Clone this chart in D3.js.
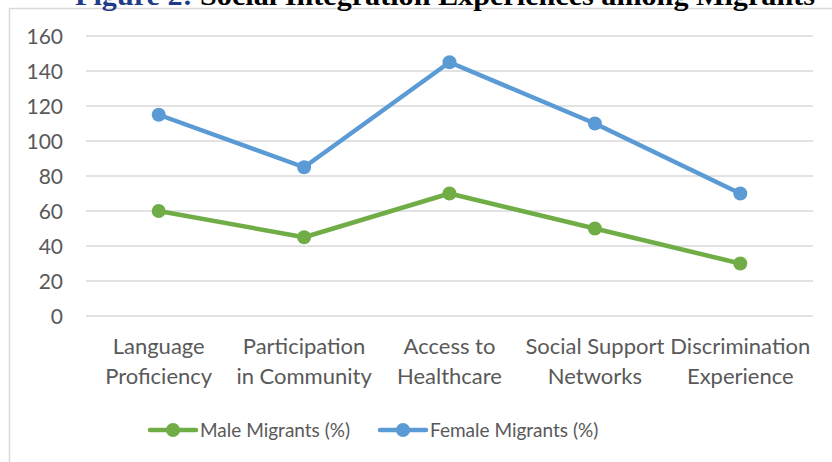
<!DOCTYPE html>
<html>
<head>
<meta charset="utf-8">
<script src="https://cdn.jsdelivr.net/npm/d3@7"></script>
<style>
  body { margin: 0; background: #fff; }
  text { font-family: Lato, "Open Sans", sans-serif; }
</style>
</head>
<body>
<script>
// Social integration experiences among migrants - line chart

const categories = [
    ["Language", "Proficiency"],
    ["Participation", "in Community"],
    ["Access to", "Healthcare"],
    ["Social Support", "Networks"],
    ["Discrimination", "Experience"]
];
const maleValues = [60, 45, 70, 50, 30];
const femaleValues = [115, 85, 145, 110, 70];
const yTicks = [0, 20, 40, 60, 80, 100, 120, 140, 160];
const seriesNames = ["Male Migrants (%)", "Female Migrants (%)"];

const width = 832;
const height = 462;

const svg = d3.select("body")
    .append("svg")
    .attr("width", width)
    .attr("height", height);

// chart frame (runs off the right and bottom)
svg.append("rect")
    .attr("x", 9.5)
    .attr("y", 8.5)
    .attr("width", 840)
    .attr("height", 470)
    .attr("fill", "#fff")
    .attr("stroke", "#d9d9d9")
    .attr("stroke-width", 1.5);

// clipped title at the very top
const title = svg.append("text")
    .attr("x", 75)
    .attr("y", 5)
    .attr("textLength", 740)
    .attr("lengthAdjust", "spacingAndGlyphs")
    .style("font-family", "'Liberation Serif', serif")
    .style("font-weight", "bold")
    .style("font-size", "27px");
title.append("tspan").attr("fill", "#1f3c88").text("Figure 2: ");
title.append("tspan").attr("fill", "#000").text("Social Integration Experiences among Migrants");

// scales
const xScale = d3.scaleBand()
    .domain(d3.range(categories.length))
    .range([86, 813]);

const yScale = d3.scaleLinear()
    .domain([0, 160])
    .range([316, 36]);

// gridlines
svg.append("g")
    .selectAll("line")
    .data(yTicks)
    .join("line")
    .attr("x1", 86)
    .attr("x2", 813)
    .attr("y1", d => yScale(d))
    .attr("y2", d => yScale(d))
    .attr("stroke", "#d9d9d9")
    .attr("stroke-width", 1.3);

// y axis labels
svg.append("g")
    .selectAll("text")
    .data(yTicks)
    .join("text")
    .attr("x", 63)
    .attr("y", d => yScale(d))
    .attr("dy", "0.36em")
    .attr("text-anchor", "end")
    .attr("fill", "#595959")
    .style("font-size", "21px")
    .text(d => d);

// x axis labels
const xLabels = svg.append("g")
    .selectAll("text")
    .data(categories)
    .join("text")
    .attr("text-anchor", "middle")
    .attr("fill", "#595959")
    .style("font-size", "22px");

xLabels.selectAll("tspan")
    .data((d, i) => d.map(s => ({s, i})))
    .join("tspan")
    .attr("x", d => xScale(d.i) + xScale.bandwidth() / 2)
    .attr("y", (d, j) => 354 + j * 30)
    .text(d => d.s);

// lines
const line = d3.line()
    .x((d, i) => xScale(i) + xScale.bandwidth() / 2)
    .y(d => yScale(d));

const series = [
    {name: seriesNames[0], values: maleValues, color: "#70ad47"},
    {name: seriesNames[1], values: femaleValues, color: "#5b9bd5"}
];

series.forEach(s => {
    svg.append("path")
        .datum(s.values)
        .attr("fill", "none")
        .attr("stroke", s.color)
        .attr("stroke-width", 4.5)
        .attr("stroke-linejoin", "round")
        .attr("d", line);

    svg.append("g")
        .selectAll("circle")
        .data(s.values)
        .join("circle")
        .attr("cx", (d, i) => xScale(i) + xScale.bandwidth() / 2)
        .attr("cy", d => yScale(d))
        .attr("r", 7)
        .attr("fill", s.color);
});

// legend
const legendX = [150, 380];
series.forEach((s, i) => {
    const g = svg.append("g").attr("transform", `translate(${legendX[i]},430)`);
    g.append("line")
        .attr("x1", 0).attr("x2", 46)
        .attr("stroke", s.color)
        .attr("stroke-width", 4.5)
        .attr("stroke-linecap", "round");
    g.append("circle")
        .attr("cx", 23)
        .attr("r", 7)
        .attr("fill", s.color);
    g.append("text")
        .attr("x", 50)
        .attr("dy", "0.36em")
        .attr("fill", "#595959")
        .style("font-size", "19px")
        .text(s.name);
});
</script>
</body>
</html>
